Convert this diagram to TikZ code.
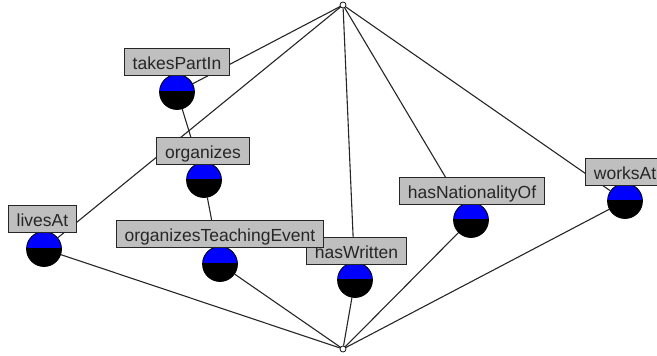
\documentclass[tikz,border=0pt]{standalone}
\usepackage{fontspec}
\setmainfont{Liberation Sans}
\pgfdeclarelayer{background}
\pgfsetlayers{background,main}
\begin{document}
\begin{tikzpicture}[x=1pt,y=-1pt,
  concept/.style={circle, draw=black, line width=0.8pt, minimum size=35pt, inner sep=0pt,
    path picture={
      \fill[blue] (path picture bounding box.north west) rectangle ([yshift=1pt]path picture bounding box.east);
      \fill[black] ([yshift=1pt]path picture bounding box.west) rectangle (path picture bounding box.south east);
    }},
  bound/.style={circle, draw=black, fill=white, line width=0.7pt, minimum size=6pt, inner sep=0pt},
  attr/.style={rectangle, draw=black!85, fill=black!25, line width=0.9pt, text=black!85,
    font=\fontsize{17.5}{20}\selectfont, inner xsep=8.5pt, inner ysep=3pt,
    text height=18pt, text depth=3pt},
  link/.style={draw=black!85, line width=1.1pt}
]
\useasboundingbox (0,0) rectangle (657,356);

% lattice extremes
\node[bound] (top) at (343,5) {};
\node[bound] (bot) at (343,349) {};

% concepts
\node[concept] (cTake) at (177,92) {};
\node[concept] (cOrg) at (204,180) {};
\node[concept] (cLive) at (44,249) {};
\node[concept] (cTeach) at (220,264) {};
\node[concept] (cWrite) at (355,280) {};
\node[concept] (cNat) at (471,220) {};
\node[concept] (cWork) at (625,201) {};

% attribute labels (hasWritten lies under organizesTeachingEvent)
\node[attr] (lTake) at (177,61.5) {takesPartIn};
\node[attr] (lOrg) at (203,150.5) {organizes};
\node[attr] (lLive) at (42.5,219) {livesAt};
\node[attr] (lWrite) at (356.5,250.5) {hasWritten};
\node[attr] (lTeach) at (220,233.5) {organizesTeachingEvent};
\node[attr] (lNat) at (472,190.5) {hasNationalityOf};
\node[attr] (lWork) at (625,171.5) {worksAt};

% order relation
\begin{pgfonlayer}{background}
\draw[link] (top) -- (cTake);
\draw[link] (top) -- (cLive);
\draw[link] (top) -- (cWrite);
\draw[link] (top) -- (cNat);
\draw[link] (top) -- (cWork);
\draw[link] (cTake) -- (cOrg);
\draw[link] (cOrg) -- (cTeach);
\draw[link] (cLive) -- (bot);
\draw[link] (cTeach) -- (bot);
\draw[link] (cWrite) -- (bot);
\draw[link] (cNat) -- (bot);
\draw[link] (cWork) -- (bot);
\end{pgfonlayer}
\end{tikzpicture}
\end{document}
